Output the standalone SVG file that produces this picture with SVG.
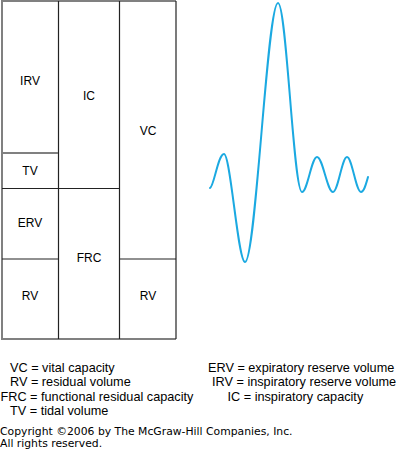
<svg xmlns="http://www.w3.org/2000/svg" width="398" height="449" viewBox="0 0 398 449">
<style>
.lbl{font-family:"Liberation Sans",Arial,sans-serif;font-size:12px;fill:#000;text-anchor:middle}
.leg{font-family:"Liberation Sans",Arial,sans-serif;font-size:12.7px;fill:#000}
.cp{font-family:"DejaVu Sans",Verdana,sans-serif;font-size:10.8px;fill:#000}
.k{stroke:#222;stroke-width:1.2;fill:none}
.g{stroke:#808080;stroke-width:2;fill:none}
.wave{stroke:#1ba9e1;stroke-width:2;fill:none;stroke-linecap:round;stroke-linejoin:round}
</style>
<rect width="398" height="449" fill="#fff"/>
<g id="connectors">
<line class="g" x1="2" y1="1" x2="176" y2="1"/>
<line class="g" x1="2" y1="339" x2="176" y2="339"/>
<line class="g" x1="2" y1="0" x2="2" y2="340"/>
<line class="k" x1="176" y1="1" x2="176" y2="339"/>
<line class="k" x1="58.5" y1="1" x2="58.5" y2="339"/>
<line class="k" x1="119.5" y1="1" x2="119.5" y2="339"/>
<line class="g" x1="2" y1="153" x2="58" y2="153"/>
<line class="k" x1="2" y1="188.5" x2="119.5" y2="188.5"/>
<line class="k" x1="2" y1="259" x2="58.5" y2="259"/>
<line class="k" x1="119.5" y1="259" x2="176" y2="259"/>
</g>
<g id="IRV"><text class="lbl" x="30" y="85">IRV</text></g>
<g id="TV"><text class="lbl" x="30" y="175">TV</text></g>
<g id="ERV"><text class="lbl" x="30" y="227">ERV</text></g>
<g id="RV1"><text class="lbl" x="30" y="300">RV</text></g>
<g id="IC"><text class="lbl" x="89" y="100">IC</text></g>
<g id="FRC"><text class="lbl" x="89" y="262">FRC</text></g>
<g id="VC"><text class="lbl" x="148" y="135">VC</text></g>
<g id="RV2"><text class="lbl" x="148" y="300">RV</text></g>
<g id="spirogram">
<path class="wave" d="M210,188 C214,187 218,154 224,154 C230.5,154 238,262 245,262 C256,262 267,3 278,3 C286.6,3 293.4,192 302,192 C307.4,192 311.6,157 317,157 C322.8,157 327.2,192 333,192 C338,192 342,157 347,157 C352,157 356,192 361,192 C364,192 366,184 368,177"/>
</g>
<g id="legend">
<text class="leg" x="10" y="372">VC = vital capacity</text>
<text class="leg" x="10" y="386">RV = residual volume</text>
<text class="leg" x="0.5" y="400.5">FRC = functional residual capacity</text>
<text class="leg" x="10" y="414.5">TV = tidal volume</text>
<text class="leg" x="208" y="372">ERV = expiratory reserve volume</text>
<text class="leg" x="212" y="386">IRV = inspiratory reserve volume</text>
<text class="leg" x="227.5" y="400.5">IC = inspiratory capacity</text>
<text class="cp" x="0" y="435">Copyright ©2006 by The McGraw-Hill Companies, Inc.</text>
<text class="cp" x="0" y="447">All rights reserved.</text>
</g>
</svg>
